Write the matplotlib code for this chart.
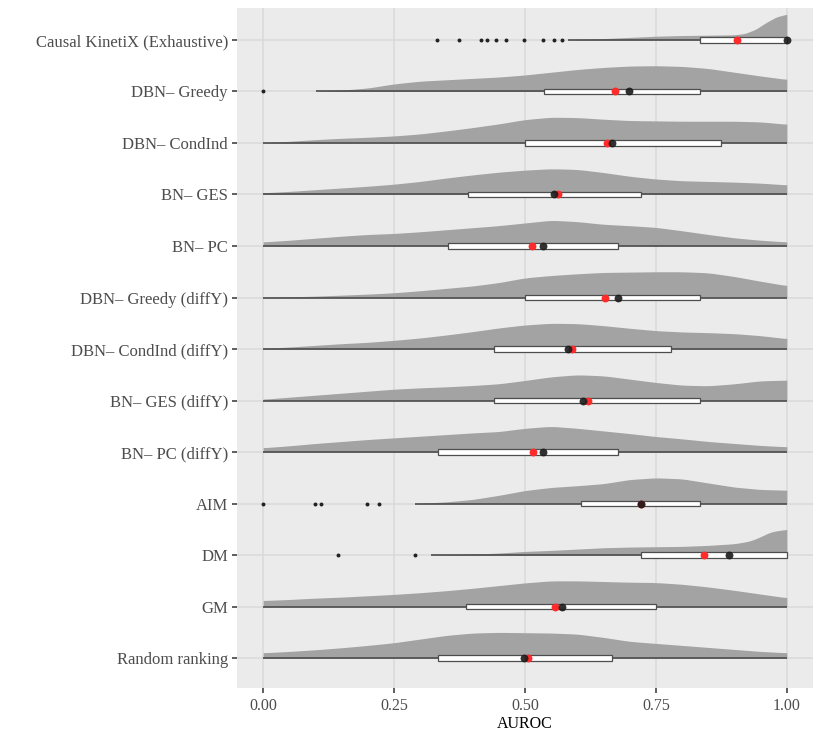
import numpy as np
import matplotlib
matplotlib.use("Agg")
import matplotlib.pyplot as plt

# ---------------- data ----------------
methods = ["Causal KinetiX (Exhaustive)", "DBN– Greedy", "DBN– CondInd", "BN– GES", "BN– PC",
           "DBN– Greedy (diffY)", "DBN– CondInd (diffY)", "BN– GES (diffY)", "BN– PC (diffY)",
           "AIM", "DM", "GM", "Random ranking"]

q1 = [0.834, 0.536, 0.500, 0.392, 0.352, 0.500, 0.440, 0.440, 0.333, 0.607, 0.722, 0.387, 0.333]
q3 = [1.000, 0.834, 0.875, 0.722, 0.678, 0.834, 0.778, 0.834, 0.678, 0.834, 1.000, 0.750, 0.666]
medians = [1.000, 0.699, 0.666, 0.555, 0.535, 0.678, 0.582, 0.610, 0.535, 0.722, 0.889, 0.570, 0.499]
means = [0.905, 0.671, 0.656, 0.563, 0.513, 0.653, 0.590, 0.620, 0.516, 0.721, 0.842, 0.558, 0.506]
whisk_lo = [0.582, 0.100, 0.0, 0.0, 0.0, 0.0, 0.0, 0.0, 0.0, 0.290, 0.320, 0.0, 0.0]
whisk_hi = [1.0] * 13
outliers = [
    [0.332, 0.374, 0.416, 0.427, 0.444, 0.464, 0.499, 0.535, 0.555, 0.571],
    [0.0], [], [], [], [], [], [], [],
    [0.0, 0.099, 0.110, 0.199, 0.222],
    [0.143, 0.290], [], [],
]

grid21 = [0.0, 0.05, 0.1, 0.15, 0.2, 0.25, 0.3, 0.35, 0.4, 0.45, 0.5,
          0.55, 0.6, 0.65, 0.7, 0.75, 0.8, 0.85, 0.9, 0.95, 1.0]

dens_x = [
    [0.58, 0.65, 0.75, 0.8, 0.85, 0.9, 0.92, 0.94, 0.96, 0.98, 1.0],
    [0.1, 0.15, 0.2, 0.25, 0.3, 0.35, 0.4, 0.45, 0.5, 0.55, 0.6, 0.65, 0.7, 0.75, 0.8, 0.85, 0.9, 0.95, 1.0],
    grid21, grid21, grid21, grid21, grid21, grid21, grid21,
    [0.29, 0.35, 0.4, 0.45, 0.5, 0.55, 0.6, 0.65, 0.7, 0.75, 0.8, 0.85, 0.9, 0.95, 1.0],
    [0.32, 0.4, 0.45, 0.5, 0.55, 0.6, 0.65, 0.7, 0.75, 0.8, 0.85, 0.9, 0.93, 0.95, 0.97, 1.0],
    grid21, grid21,
]
dens_y = [
    [0, 4, 11, 13, 14, 15, 19, 31, 51, 68, 76],
    [0, 4, 10, 22, 30, 34, 38, 42, 48, 56, 64, 70, 74, 75, 73, 67, 56, 45, 35],
    [0, 5, 10, 14, 17, 21, 27, 36, 46, 57, 70, 77, 76, 71, 67, 66, 65, 65, 65, 63, 56],
    [5, 9, 14, 19, 24, 30, 38, 48, 57, 65, 71, 75, 73, 64, 53, 45, 40, 38, 36, 33, 28],
    [12, 17, 23, 29, 34, 37, 42, 48, 54, 60, 68, 76, 72, 64, 60, 55, 45, 34, 24, 17, 12],
    [0, 2, 4, 7, 10, 14, 20, 27, 34, 44, 58, 65, 70, 74, 75, 76, 76, 73, 62, 48, 35],
    [2, 6, 11, 16, 20, 26, 33, 42, 52, 63, 72, 77, 76, 70, 62, 55, 51, 49, 46, 40, 31],
    [4, 10, 16, 22, 28, 34, 38, 41, 45, 50, 60, 71, 77, 74, 64, 54, 46, 44, 50, 59, 61],
    [13, 19, 26, 32, 38, 43, 48, 53, 58, 62, 72, 78, 72, 64, 56, 47, 40, 32, 26, 20, 16],
    [0, 5, 12, 24, 38, 47, 52, 58, 70, 75, 72, 60, 48, 41, 39],
    [0, 3, 6, 11, 14, 18, 22, 24, 25, 26, 29, 34, 42, 55, 70, 77],
    [18, 21, 25, 28, 32, 36, 41, 47, 54, 62, 70, 76, 76, 74, 72, 71, 66, 58, 48, 37, 26],
    [16, 20, 25, 31, 38, 46, 57, 68, 75, 77, 76, 75, 72, 62, 50, 44, 38, 32, 26, 20, 16],
]

# ---------------- figure ----------------
plt.rcParams['font.family'] = ['Liberation Serif', 'DejaVu Serif']
fig = plt.figure(figsize=(8.22, 7.41), dpi=100)
ax = fig.add_axes([237 / 822, 1 - 688 / 741, (813 - 237) / 822, (688 - 8) / 741])
ax.set_facecolor('#EBEBEB')

n = len(methods)
ypos = [n - i for i in range(n)]
ax.set_xlim(-0.05, 1.05)
ax.set_ylim(0.42, 13.62)

ax.set_xticks([0, 0.25, 0.5, 0.75, 1.0])
ax.set_xticklabels(["0.00", "0.25", "0.50", "0.75", "1.00"])
ax.set_yticks(ypos)
ax.set_yticklabels(methods)
ax.grid(True, color='#D9D9D9', linewidth=1.1)
ax.set_axisbelow(True)
for s in ax.spines.values():
    s.set_visible(False)
ax.tick_params(axis='both', colors='#333333', length=3.5, width=1.1,
               labelcolor='#4D4D4D')
ax.tick_params(axis='y', pad=3, labelsize=12)
ax.tick_params(axis='x', pad=4, labelsize=11.5)
ax.set_xlabel("AUROC", fontsize=11.5, color='black', labelpad=1)

max_h = 0.5
box_h = 0.11
for i in range(n):
    y0 = ypos[i]
    xs = np.array(dens_x[i], dtype=float)
    hs = np.array(dens_y[i], dtype=float)
    xf = np.linspace(xs[0], xs[-1], 300)
    hf = np.interp(xf, xs, hs)
    # light smoothing of the read-off profile
    k = np.ones(9) / 9
    hp = np.pad(hf, 4, mode='edge')
    hf = np.convolve(hp, k, mode='valid')
    hf = hf / hs.max() * max_h
    ax.fill_between(xf, y0, y0 + hf, color='#A3A3A3', linewidth=0, zorder=2)
    # whisker / baseline
    ax.plot([whisk_lo[i], whisk_hi[i]], [y0, y0], color='#4D4D4D', lw=1.2, zorder=3,
            solid_capstyle='butt')
    # box
    ax.add_patch(plt.Rectangle((q1[i], y0 - box_h / 2), q3[i] - q1[i], box_h,
                               facecolor='white', edgecolor='#4D4D4D', lw=0.9, zorder=4))
    # outliers
    if outliers[i]:
        ax.scatter(outliers[i], [y0] * len(outliers[i]), s=8, color='#222222', zorder=5,
                   linewidths=0)
    # mean (red) and median (black)
    ax.scatter([means[i]], [y0], s=32, color='#FF2A2A', zorder=6, linewidths=0)
    ax.scatter([medians[i]], [y0], s=32, color='#1A1A1A', alpha=0.9, zorder=7, linewidths=0)

fig.savefig("out.png", dpi=100, facecolor='white')
